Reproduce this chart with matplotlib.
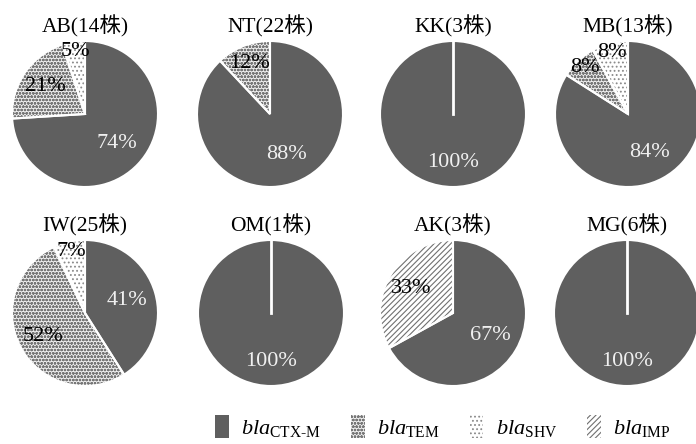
import numpy as np
import matplotlib
matplotlib.use("Agg")
import matplotlib.pyplot as plt
from matplotlib.patches import Patch

plt.rcParams['font.family'] = ['Liberation Serif', 'Noto Sans CJK JP']
plt.rcParams['mathtext.fontset'] = 'custom'
plt.rcParams['mathtext.rm'] = 'Liberation Serif'
plt.rcParams['mathtext.it'] = 'Liberation Serif:italic'
plt.rcParams['hatch.linewidth'] = 0.8

# datos
regiones = ["AB", "NT", "KK", "MB", "IW", "OM", "AK", "MG"]
cepas = [14, 22, 3, 13, 25, 1, 3, 6]
genes = ["CTX-M", "TEM", "SHV", "IMP"]
ctxm = [74, 88, 100, 84, 41, 100, 67, 100]
tem = [21, 12, 0, 8, 52, 0, 0, 0]
shv = [5, 0, 0, 8, 7, 0, 0, 0]
imp = [0, 0, 0, 0, 0, 0, 33, 0]

# estilos
colores = ["#5f5f5f", "#eeeeee", "white", "white"]
tramas = [None, "ooooo", "....", "//////"]
color_trama = ["#5f5f5f", "#777777", "#8a8a8a", "#707070"]

W, H = 696, 444
centros = [(85, 114), (270, 114), (453, 114), (628, 114),
           (85, 313), (271, 313), (453, 313), (627, 313)]
R = 73

fig = plt.figure(figsize=(W / 100, H / 100), dpi=100)

for i, reg in enumerate(regiones):
    cx, cy = centros[i]
    ax = fig.add_axes([(cx - R) / W, 1 - (cy + R) / H, 2 * R / W, 2 * R / H])
    vals = [ctxm[i], tem[i], shv[i], imp[i]]
    idx = [k for k in range(4) if vals[k] > 0]
    v = [vals[k] for k in idx]
    # relleno con trama
    wedges, _ = ax.pie(v, startangle=90, counterclock=False, radius=1,
                       colors=[colores[k] for k in idx])
    for w, k in zip(wedges, idx):
        w.set_edgecolor(color_trama[k])
        w.set_linewidth(0)
        if tramas[k]:
            w.set_hatch(tramas[k])
    # bordes blancos
    ax.pie(v, startangle=90, counterclock=False, radius=1,
           wedgeprops=dict(facecolor="none", edgecolor="white", linewidth=1.5))
    if len(v) == 1:
        ax.plot([0, 0], [0, 1], color="white", lw=2)
    # etiquetas
    acum = 0
    for val, k in zip(v, idx):
        mid = np.deg2rad(90 - (acum + val / 2) * 3.6)
        acum += val
        if k == 0:
            d = 0.6 if val < 100 else 0.66
        elif val >= 20:
            d = 0.66
        elif val >= 10:
            d = 0.75
        else:
            d = 0.87
        ax.text(d * np.cos(mid), d * np.sin(mid), f"{val}%", ha="center", va="center",
                fontsize=16, color="#f0f0f0" if k == 0 else "black")
    ax.set_xlim(-1, 1)
    ax.set_ylim(-1, 1)
    ax.axis("off")
    fig.text(cx / W, 1 - (cy - R - 15) / H, f"{reg}({cepas[i]}株)",
             ha="center", va="center", fontsize=15.5)

handles = [Patch(facecolor=colores[k], edgecolor=color_trama[k], hatch=tramas[k], linewidth=0)
           for k in range(4)]
etiquetas = [r"$\mathit{bla}_{\mathrm{" + g.replace("-", "\u2010") + "}}$" for g in genes]
fig.legend(handles, etiquetas, loc="lower left", bbox_to_anchor=(197 / W, -0.028), ncol=4,
           frameon=False, fontsize=16, handlelength=0.62, handleheight=1.2,
           columnspacing=1.35, handletextpad=0.55, borderpad=0.3)

fig.savefig("out.png", dpi=100)
